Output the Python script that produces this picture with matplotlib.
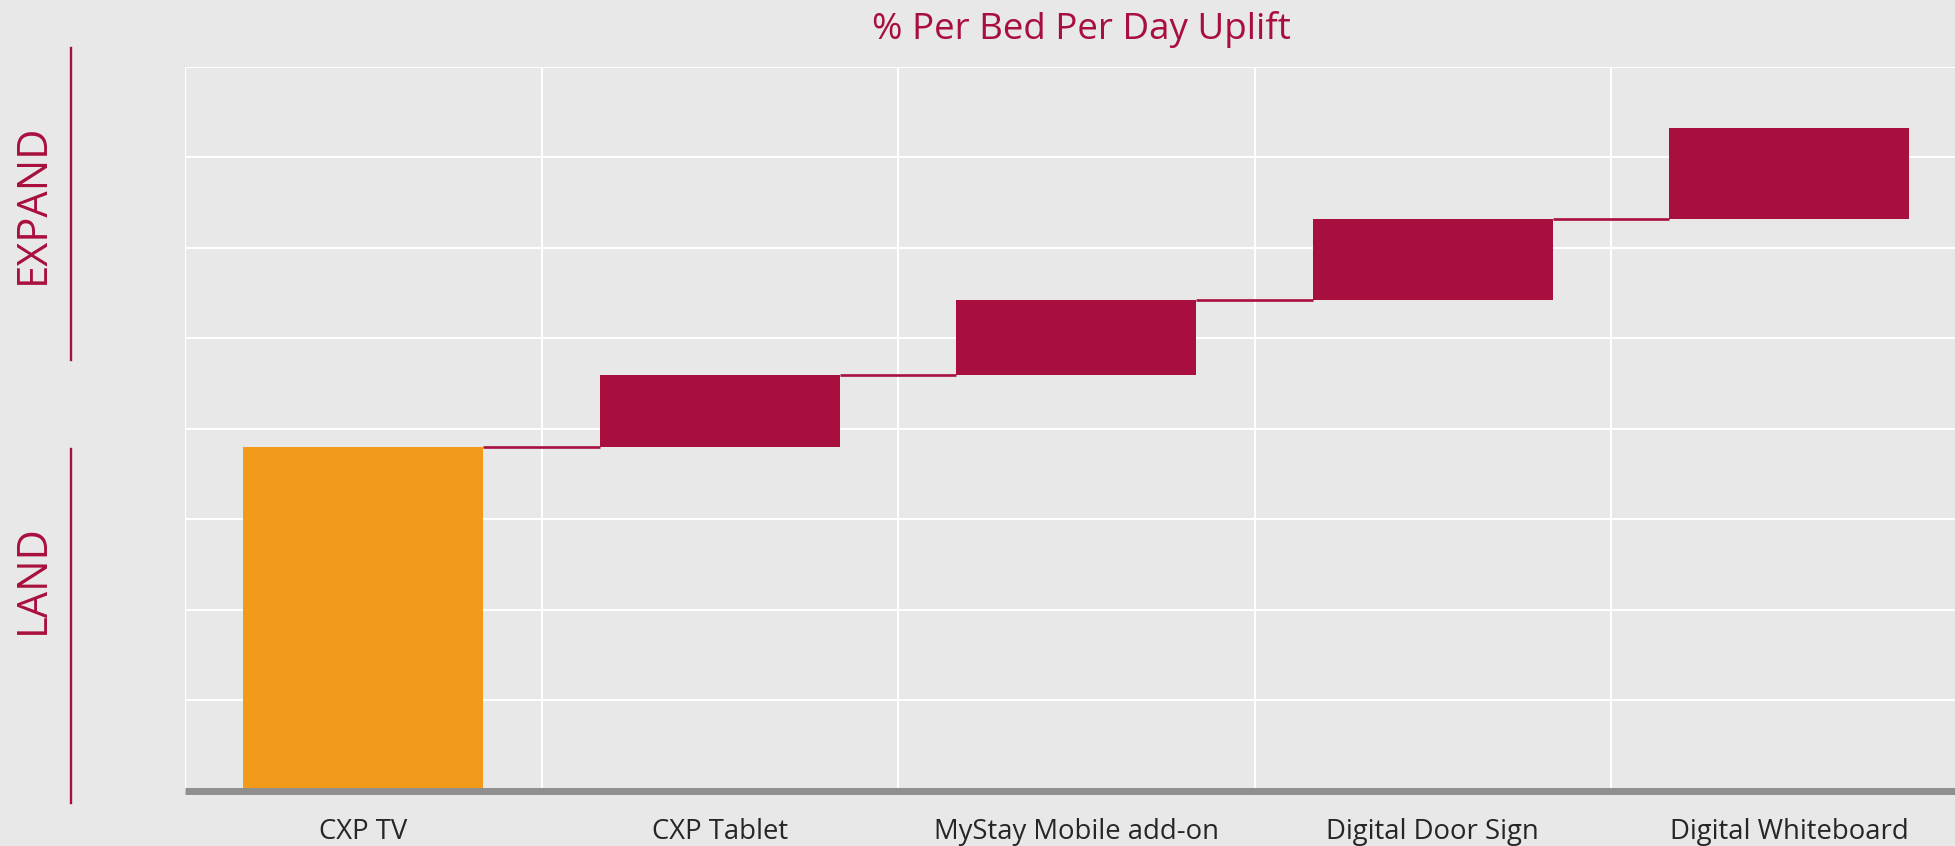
import matplotlib
matplotlib.use("Agg")
import matplotlib.pyplot as plt
from matplotlib.lines import Line2D
import numpy as np

# waterfall data (one gridline = 1 unit, no values printed on the chart)
categories = ["CXP TV", "CXP Tablet", "MyStay Mobile add-on",
              "Digital Door Sign", "Digital Whiteboard"]
steps = [3.80, 0.80, 0.82, 0.90, 1.00]

title = "% Per Bed Per Day Uplift"
side_labels = ["EXPAND", "LAND"]

bg = "#e8e8e8"
crimson = "#a90f3e"
orange = "#f29a1a"

plt.rcParams["font.family"] = ["Open Sans", "DejaVu Sans"]

W, H = 1955, 846
fig = plt.figure(figsize=(W / 100, H / 100), dpi=100, facecolor=bg)

# plot area runs a little past the right edge, like the original
ax = fig.add_axes([185 / W, 1 - 791 / H, 1782.5 / W, 724.3 / H])
ax.set_facecolor(bg)

x = np.arange(len(categories))
steps = np.array(steps)
tops = np.cumsum(steps)
bottoms = tops - steps
bottoms[0] = 0
colors = [orange] + [crimson] * (len(categories) - 1)
bw = 0.673

ax.bar(x, steps, bottom=bottoms, width=bw, color=colors, zorder=3)

# connector lines between bars
for i in range(len(categories) - 1):
    ax.plot([x[i] + bw / 2, x[i + 1] - bw / 2], [tops[i], tops[i]],
            color=crimson, lw=1.9, zorder=3, solid_capstyle="butt")

ax.set_xlim(-0.5, len(categories) - 0.5)
ax.set_ylim(0, 8)
ax.set_yticks(np.arange(0, 9))
ax.set_xticks(np.arange(-0.5, len(categories)), minor=True)
ax.set_xticks([])
ax.set_yticklabels([])
ax.grid(True, which="minor", axis="x", color="white", lw=1.5, zorder=0)
ax.grid(True, which="major", axis="y", color="white", lw=1.5, zorder=0)
ax.tick_params(which="both", length=0)
ax.set_axisbelow(True)

for s in ["top", "left", "right"]:
    ax.spines[s].set_visible(False)
ax.spines["bottom"].set_color("#8f8f8f")
ax.spines["bottom"].set_linewidth(5)
ax.spines["bottom"].set_capstyle("butt")
ax.spines["bottom"].set_zorder(4)

for xi, name in zip(x, categories):
    ax.text(xi, -48 / 724.3, name, transform=ax.get_xaxis_transform(),
            ha="center", va="baseline", fontsize=19.8, color="#262626")

fig.text(1081.5 / W, 1 - 39 / H, title, ha="center", va="baseline",
         fontsize=26.5, color=crimson)

# side labels with their bracket lines
fig.text(32.5 / W, 1 - 203.5 / H, side_labels[0], rotation=90,
         ha="center", va="center", fontsize=30, color=crimson)
fig.text(32.5 / W, 1 - 579 / H, side_labels[1], rotation=90,
         ha="center", va="center", fontsize=30, color=crimson)
fig.add_artist(Line2D([71 / W, 71 / W], [1 - 48 / H, 1 - 360 / H],
                      color=crimson, lw=1.7))
fig.add_artist(Line2D([71 / W, 71 / W], [1 - 449 / H, 1 - 803 / H],
                      color=crimson, lw=1.7))

fig.savefig("out.png", dpi=100, facecolor=bg)
